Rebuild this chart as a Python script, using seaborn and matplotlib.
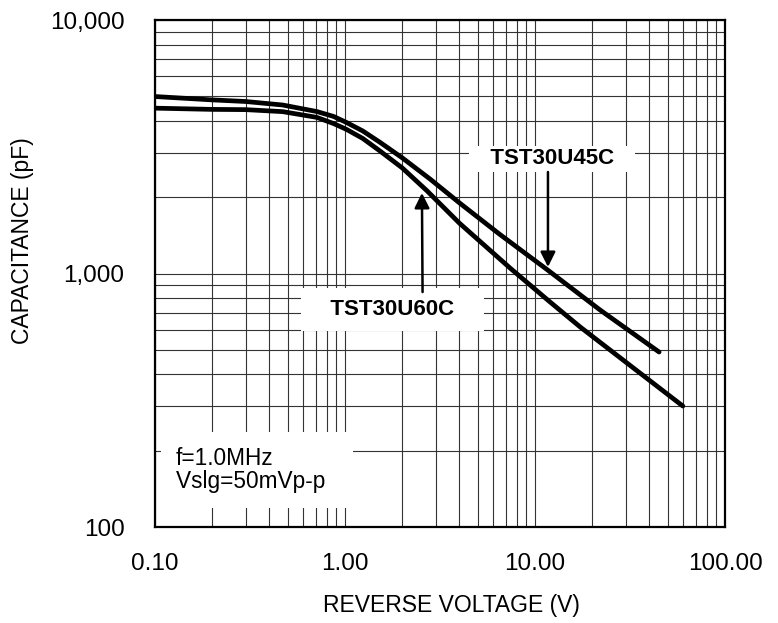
import matplotlib
matplotlib.use('Agg')
import numpy as np
import pandas as pd
import matplotlib.pyplot as plt
import seaborn as sns
from matplotlib.ticker import FixedLocator, FixedFormatter, LogLocator, NullFormatter

# values (V, pF)
v_45c = [0.1, 0.2, 0.3, 0.47, 0.71, 0.87, 1.02, 1.24, 1.53, 2.0, 2.8, 4.0, 6.5, 11.7, 22, 45]
c_45c = [4990, 4840, 4770, 4620, 4355, 4165, 3940, 3650, 3290, 2860, 2360, 1900, 1430, 1030, 718, 490]

v_60c = [0.1, 0.2, 0.3, 0.47, 0.71, 0.87, 1.02, 1.24, 1.53, 2.0, 2.7, 4.0, 7.4, 12, 17.3, 60]
c_60c = [4490, 4440, 4430, 4350, 4130, 3905, 3700, 3410, 3040, 2610, 2120, 1580, 1050, 772, 615, 300]

x_ticks = [0.1, 1, 10, 100]
x_tick_labels = ['0.10', '1.00', '10.00', '100.00']
y_ticks = [100, 1000, 10000]
y_tick_labels = ['100', '1,000', '10,000']

df = pd.concat([
    pd.DataFrame({'voltage': v_45c, 'capacitance': c_45c, 'part': 'TST30U45C'}),
    pd.DataFrame({'voltage': v_60c, 'capacitance': c_60c, 'part': 'TST30U60C'}),
])

sns.set_style('white')
plt.rcParams['font.family'] = ['Liberation Sans', 'DejaVu Sans']
plt.rcParams['text.color'] = 'black'
plt.rcParams['axes.labelcolor'] = 'black'
plt.rcParams['xtick.color'] = 'black'
plt.rcParams['ytick.color'] = 'black'

fig = plt.figure(figsize=(7.78, 6.23), dpi=100)
ax = fig.add_axes([155 / 778, 1 - 527 / 623, 570 / 778, 507 / 623])

sns.lineplot(data=df, x='voltage', y='capacitance', hue='part',
             palette=['black', 'black'], linewidth=3.4, estimator=None,
             sort=False, legend=False, ax=ax, zorder=4)
for line in ax.lines:
    line.set_solid_capstyle('round')
    line.set_solid_joinstyle('round')

ax.set_xscale('log')
ax.set_yscale('log')
ax.set_xlim(0.1, 100)
ax.set_ylim(100, 10000)

ax.xaxis.set_major_locator(FixedLocator(x_ticks))
ax.xaxis.set_major_formatter(FixedFormatter(x_tick_labels))
ax.yaxis.set_major_locator(FixedLocator(y_ticks))
ax.yaxis.set_major_formatter(FixedFormatter(y_tick_labels))
for axis in (ax.xaxis, ax.yaxis):
    axis.set_minor_locator(LogLocator(base=10, subs=np.arange(2, 10)))
    axis.set_minor_formatter(NullFormatter())

ax.grid(which='both', color='#333333', linewidth=0.8, zorder=1)
ax.set_axisbelow(True)
ax.tick_params(which='both', length=0, labelsize=17.5, labelcolor='black')
ax.tick_params(axis='x', pad=19)
ax.tick_params(axis='y', pad=22)

for s in ax.spines.values():
    s.set_color('black')
    s.set_linewidth(1.6)
    s.set_zorder(5)

ax.set_xlabel('REVERSE VOLTAGE (V)', fontsize=16.5, color='black')
ax.set_ylabel('CAPACITANCE (pF)', fontsize=16.5, color='black')
ax.xaxis.set_label_coords(0.52, -0.133)
ax.yaxis.set_label_coords(-0.212, 0.565)

# part labels with white boxes and arrows
ax.text(12.3, 2830, '   TST30U45C   ', fontsize=16, fontweight='bold',
        ha='center', va='center', zorder=3,
        bbox=dict(facecolor='white', edgecolor='none', pad=2))
ax.annotate('', xy=(11.7, 1061), xytext=(11.7, 2514),
            arrowprops=dict(arrowstyle='-|>,head_length=0.9,head_width=0.45',
                            color='black', lw=1.8, shrinkA=0, shrinkB=0),
            zorder=6)

ax.text(1.78, 721, '   TST30U60C   ', fontsize=16, fontweight='bold',
        ha='center', va='center', zorder=3,
        bbox=dict(facecolor='white', edgecolor='none', pad=8))
ax.annotate('', xy=(2.54, 2078), xytext=(2.56, 845),
            arrowprops=dict(arrowstyle='-|>,head_length=0.9,head_width=0.45',
                            color='black', lw=1.8, shrinkA=0, shrinkB=0),
            zorder=6)

ax.text(0.129, 207, 'f=1.0MHz\nVslg=50mVp-p  ', fontsize=16.3,
        ha='left', va='top', linespacing=1.0, zorder=3,
        bbox=dict(facecolor='white', edgecolor='none', pad=11))

fig.savefig('out.png', dpi=100)
